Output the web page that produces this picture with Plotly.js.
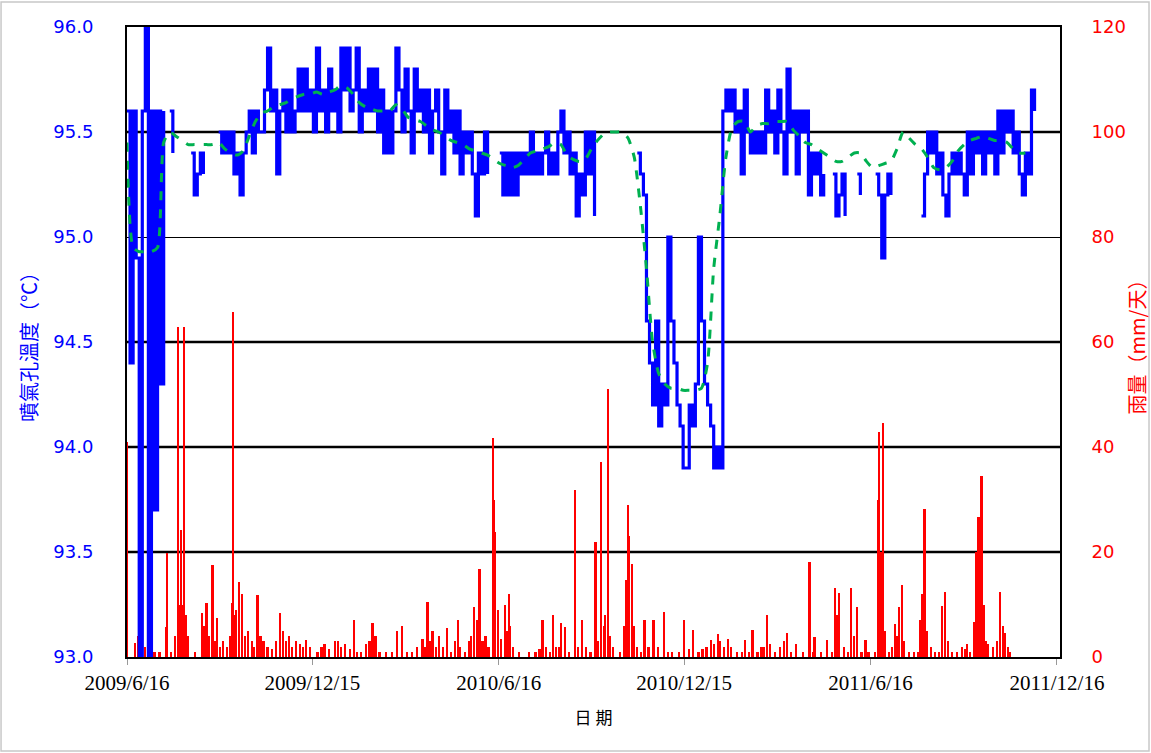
<!DOCTYPE html>
<html>
<head>
<meta charset="utf-8">
<script src="https://cdn.plot.ly/plotly-3.0.1.min.js"></script>
<style>
  html, body { margin: 0; padding: 0; background: #ffffff; }
  #chart { width: 1151px; height: 753px; }
</style>
</head>
<body>
<div id="chart"></div>
<script>
// start of the record, all series are counted in days from here
var startDate = '2009-06-16';

// vent temperature (°C), one reading every 3 days, null = no data
var tempStepDays = 3;
var tempValues = [
    95.6, 94.4, 95.6, 94.9, 93.0, 95.6, 96.0, 93.0, 95.6, 93.7,
    95.6, 94.3, 95.6, null, 95.6, 95.4, null, null, null, null,
    null, 95.4, 95.2, 95.3, 95.4, 95.3, null, null, null, null,
    95.5, 95.4, 95.5, 95.4, 95.5, 95.3, 95.4, 95.2, 95.4, 95.5,
    95.6, 95.4, 95.6, 95.5, 95.5, 95.7, 95.9, 95.6, 95.7, 95.3,
    95.6, 95.7, 95.5, 95.7, 95.5, 95.6, 95.8, 95.6, 95.8, 95.6,
    95.7, 95.5, 95.9, 95.6, 95.7, 95.5, 95.8, 95.6, 95.7, 95.5,
    95.9, 95.7, 95.9, 95.6, 95.7, 95.9, 95.5, 95.7, 95.6, 95.8,
    95.6, 95.8, 95.5, 95.7, 95.4, 95.6, 95.4, 95.6, 95.9, 95.7,
    95.5, 95.8, 95.6, 95.4, 95.8, 95.6, 95.7, 95.5, 95.7, 95.4,
    95.6, 95.7, 95.5, 95.3, 95.7, 95.5, 95.6, 95.4, 95.6, 95.3,
    95.5, 95.4, 95.5, 95.3, 95.1, 95.4, 95.3, 95.5, 95.3, null,
    null, null, 95.4, 95.2, 95.4, 95.2, 95.4, 95.2, 95.4, 95.3,
    95.4, 95.3, 95.5, 95.3, 95.4, 95.3, 95.4, 95.5, 95.3, 95.4,
    95.3, 95.5, 95.6, 95.4, 95.5, 95.3, 95.4, 95.1, 95.3, 95.2,
    95.5, 95.3, 95.5, 95.1, null, null, null, null, null, null,
    null, null, null, null, null, null, null, 95.4, 95.3, 95.2,
    94.6, 94.4, 94.2, 94.6, 94.1, 94.3, 94.2, 95.0, 94.6, 94.4,
    94.2, 94.1, 93.9, 93.9, 94.2, 94.1, 94.3, 95.0, 94.6, 94.3,
    94.2, 94.1, 93.9, 94.0, 93.9, 95.6, 95.7, 95.6, 95.7, 95.5,
    95.6, 95.3, 95.7, 95.5, 95.4, 95.5, 95.4, 95.5, 95.4, 95.7,
    95.5, 95.6, 95.4, 95.7, 95.5, 95.3, 95.8, 95.5, 95.6, 95.3,
    95.6, 95.5, 95.6, 95.2, 95.4, 95.3, 95.4, 95.2, 95.3, null,
    null, 95.3, 95.1, 95.2, 95.3, 95.1, null, null, null, 95.3,
    95.2, null, null, null, null, 95.3, 95.2, 94.9, 95.2, 95.3,
    95.2, null, null, null, null, null, null, null, null, null,
    95.1, 95.3, 95.5, 95.4, 95.5, 95.3, 95.4, 95.2, 95.1, 95.3,
    95.4, 95.3, 95.4, 95.3, 95.2, 95.5, 95.3, 95.5, 95.4, 95.5,
    95.3, 95.5, 95.4, 95.5, 95.3, 95.6, 95.4, 95.6, 95.5, 95.6,
    95.4, 95.5, 95.3, 95.2, 95.4, 95.3, 95.7, 95.6
];

// moving average of the temperature, one value every 6 days
var avgStepDays = 6;
var avgValues = [
    95.45, 94.95, 94.93, 94.93, 94.93, 94.95, 95.45, 95.50, 95.48, 95.46,
    95.44, 95.44, 95.44, 95.44, 95.44, 95.45, 95.42, 95.40, 95.39, 95.41,
    95.48, 95.55, 95.59, 95.60, 95.62, 95.63, 95.64, 95.66, 95.67, 95.68,
    95.68, 95.69, 95.68, 95.69, 95.70, 95.72, 95.71, 95.68, 95.64, 95.62,
    95.61, 95.60, 95.60, 95.60, 95.63, 95.61, 95.57, 95.56, 95.55, 95.53,
    95.51, 95.50, 95.48, 95.46, 95.45, 95.44, 95.42, 95.41, 95.40, 95.39,
    95.37, 95.35, 95.34, 95.33, 95.34, 95.37, 95.40, 95.41, 95.42, 95.43,
    95.45, 95.44, 95.39, 95.37, 95.36, 95.37, 95.42, 95.46, 95.49, 95.50,
    95.50, 95.50, 95.47, 95.38, 95.15, 94.85, 94.50, 94.35, 94.30, 94.28,
    94.28, 94.27, 94.27, 94.27, 94.28, 94.40, 94.85, 95.10, 95.38, 95.52,
    95.55, 95.55, 95.50, 95.53, 95.54, 95.54, 95.55, 95.55, 95.55, 95.51,
    95.48, 95.45, 95.44, 95.42, 95.40, 95.38, 95.36, 95.36, 95.38, 95.40,
    95.40, 95.36, 95.33, 95.34, 95.35, 95.36, 95.42, 95.50, 95.47, 95.44,
    95.42, 95.38, 95.33, 95.32, 95.33, 95.36, 95.41, 95.44, 95.46, 95.47,
    95.48, 95.47, 95.46, 95.46, 95.45, 95.42, 95.40, 95.40
];

// daily rainfall (mm/day): day number since start and amount
var rainDays = [
    0, 8, 11, 14, 18, 23, 27, 32, 38, 39, 43, 47, 50, 51, 53, 55, 56, 58, 60, 67,
    74, 76, 78, 80, 84, 86, 88, 91, 94, 98, 101, 103, 104, 106, 107, 110, 113, 116, 119, 123,
    125, 128, 131, 134, 138, 142, 146, 150, 153, 156, 159, 162, 166, 170, 173, 176, 180, 187, 191, 194,
    198, 204, 207, 210, 214, 219, 223, 226, 230, 235, 238, 241, 244, 248, 254, 260, 265, 270, 275, 280,
    285, 290, 293, 295, 298, 300, 303, 306, 310, 314, 318, 322, 325, 327, 332, 336, 338, 341, 344, 346,
    349, 352, 355, 359, 360, 361, 364, 367, 371, 373, 375, 376, 379, 385, 395, 401, 405, 408, 411, 415,
    418, 421, 424, 426, 430, 434, 440, 443, 447, 451, 455, 460, 462, 465, 468, 469, 472, 474, 477, 484,
    488, 490, 492, 493, 496, 498, 501, 505, 508, 512, 517, 521, 527, 531, 535, 542, 547, 552, 556, 561,
    565, 569, 573, 576, 580, 582, 586, 590, 593, 599, 604, 607, 611, 614, 619, 623, 625, 628, 631, 636,
    641, 645, 648, 652, 657, 664, 670, 674, 675, 681, 687, 692, 695, 697, 699, 704, 708, 711, 714, 717,
    721, 725, 728, 734, 737, 738, 740, 742, 744, 748, 751, 754, 756, 758, 761, 763, 768, 773, 777, 779,
    781, 783, 785, 789, 793, 797, 800, 803, 806, 810, 815, 820, 823, 825, 828, 832, 834, 836, 839, 841,
    843, 845, 850, 854, 857, 860, 862, 865, 867
];
var rainValues = [
    41, 2.7, 4, 3, 2, 1.5, 1, 1, 5.7, 19.8, 1, 4, 62.9, 10, 24.2, 10, 62.9, 8, 4, 1,
    8.4, 6, 10.3, 4, 17.5, 3, 7.4, 2, 3, 2, 4, 10.3, 65.7, 8, 9, 14.3, 12, 4, 5, 3,
    2, 11.8, 4, 3, 2, 1.5, 3, 8.4, 5, 3, 4, 2, 3, 2.5, 2, 3.2, 2, 1, 2, 2.5,
    1.5, 3, 3, 2, 2.5, 1.5, 7, 1, 1, 2.5, 3, 6.4, 4, 1, 1, 1, 5, 5.9, 1, 1,
    2, 3.4, 2, 10.5, 3, 5, 2, 4, 2, 5.5, 1, 3, 7, 2, 1, 3, 4, 9.5, 7, 16.8,
    3, 4, 2, 41.7, 30, 23.8, 9, 3.5, 9.9, 5, 12, 6, 2, 1, 1, 1, 1.5, 7, 2, 1,
    8, 2, 2, 6.5, 5.7, 1, 31.8, 2, 7, 2, 1, 21.9, 3, 37.1, 6, 8, 51, 4, 2, 1,
    6, 14.7, 29, 23, 17.7, 6, 2, 1, 7, 2, 7, 2, 8.6, 1, 1, 1, 7, 1.5, 5.1, 1,
    1.5, 2, 3.2, 2.5, 4.4, 3, 2, 3.5, 2, 1, 1, 3.2, 1, 5.1, 1, 2, 2, 8, 2.5, 1,
    2, 3, 4.6, 1, 2.5, 1, 18.1, 1, 3.8, 1, 3.2, 1, 13.1, 8, 12.1, 2, 1, 13.1, 4, 9.5,
    1, 3.2, 1, 1, 30, 42.9, 20, 44.6, 5, 1, 2, 6.3, 4, 9.5, 13.7, 3, 1, 1, 1, 7,
    12, 28.2, 5, 2, 1, 1, 9.8, 12.3, 3, 1, 1, 1.9, 1.5, 2.5, 1, 6.6, 20, 26.7, 34.5, 10,
    3, 2.5, 1.9, 3, 12.3, 6, 4.6, 2, 1
];

// x axis ticks
var tickDates = ['2009-06-16', '2009-12-15', '2010-06-16', '2010-12-15', '2011-06-16', '2011-12-16'];
var tickLabels = ['2009/6/16', '2009/12/15', '2010/6/16', '2010/12/15', '2011/6/16', '2011/12/16'];

var DAY = 86400000;
var t0 = new Date(startDate + 'T00:00:00Z').getTime();

function dayToDate(d) {
    return new Date(t0 + d * DAY).toISOString().slice(0, 10);
}

var tempX = [];
for (let i = 0; i < tempValues.length; i++) {
    tempX.push(dayToDate(i * tempStepDays));
}
var avgX = [];
for (let i = 0; i < avgValues.length; i++) {
    avgX.push(dayToDate(i * avgStepDays));
}
var rainX = [];
for (let i = 0; i < rainDays.length; i++) {
    rainX.push(dayToDate(rainDays[i]));
}

var data = [
    {
        x: rainX,
        y: rainValues,
        type: 'bar',
        yaxis: 'y',
        width: 2.2 * DAY,
        marker: {color: '#ff0000', line: {width: 0}},
        showlegend: false
    },
    {
        x: tempX,
        y: tempValues,
        type: 'scatter',
        mode: 'lines',
        yaxis: 'y2',
        line: {color: '#0000ff', width: 3.2, shape: 'hv'},
        connectgaps: false,
        showlegend: false
    },
    {
        x: avgX,
        y: avgValues,
        type: 'scatter',
        mode: 'lines',
        yaxis: 'y2',
        line: {color: '#00b050', width: 3, dash: 'dash', shape: 'spline', smoothing: 0.6},
        showlegend: false
    }
];

// heavier grid lines as in the original
var thickLines = [95.5, 94.5, 94.0, 93.5];
var shapes = [];
for (let i = 0; i < thickLines.length; i++) {
    shapes.push({
        type: 'line', xref: 'paper', yref: 'y2',
        x0: 0, x1: 1, y0: thickLines[i], y1: thickLines[i],
        line: {color: '#000000', width: 2.5},
        layer: 'below'
    });
}
// light frame round the whole picture
shapes.push({
    type: 'rect', xref: 'paper', yref: 'paper',
    x0: -0.135, x1: 1.0954, y0: -0.1492, y1: 1.0397,
    line: {color: '#c8c8c8', width: 1.5},
    layer: 'below'
});

var layout = {
    width: 1151,
    height: 753,
    margin: {l: 127, r: 91, t: 27, b: 96},
    paper_bgcolor: '#ffffff',
    plot_bgcolor: '#ffffff',
    bargap: 0,
    xaxis: {
        type: 'date',
        range: ['2009-06-16', '2011-12-19'],
        tickvals: tickDates,
        ticktext: tickLabels,
        ticks: 'outside',
        ticklen: 6,
        tickcolor: '#999999',
        tickfont: {family: 'Liberation Serif, serif', size: 21, color: '#000000'},
        showgrid: false,
        showline: true,
        mirror: true,
        linecolor: '#000000',
        linewidth: 2,
        zeroline: false,
        title: {
            text: '日 期',
            font: {family: 'Noto Sans CJK TC, sans-serif', size: 17, color: '#000000'},
            standoff: 18
        }
    },
    yaxis: {
        side: 'right',
        range: [0, 120],
        dtick: 20,
        tickformat: 'd',
        ticks: 'outside',
        ticklen: 26,
        tickcolor: 'rgba(0,0,0,0)',
        tickfont: {family: 'DejaVu Sans, Verdana, sans-serif', size: 18, color: '#ff0000'},
        showgrid: true,
        gridcolor: '#000000',
        gridwidth: 1,
        showline: true,
        linecolor: '#000000',
        linewidth: 2,
        zeroline: false,
        title: {
            text: '雨量（mm/天）',
            font: {family: 'Noto Sans CJK TC, sans-serif', size: 20, color: '#ff0000'},
            standoff: 6
        }
    },
    yaxis2: {
        side: 'left',
        overlaying: 'y',
        range: [93, 96],
        dtick: 0.5,
        tickformat: '.1f',
        ticks: 'outside',
        ticklen: 28,
        tickcolor: 'rgba(0,0,0,0)',
        tickfont: {family: 'DejaVu Sans, Verdana, sans-serif', size: 18, color: '#0000ff'},
        showgrid: false,
        showline: true,
        linecolor: '#000000',
        linewidth: 2,
        zeroline: false,
        title: {
            text: '噴氣孔溫度（℃）',
            font: {family: 'Noto Sans CJK TC, sans-serif', size: 20, color: '#0000ff'},
            standoff: 10
        }
    },
    shapes: shapes
};

var config = {staticPlot: true, displayModeBar: false};

Plotly.newPlot('chart', data, layout, config);
</script>
</body>
</html>
